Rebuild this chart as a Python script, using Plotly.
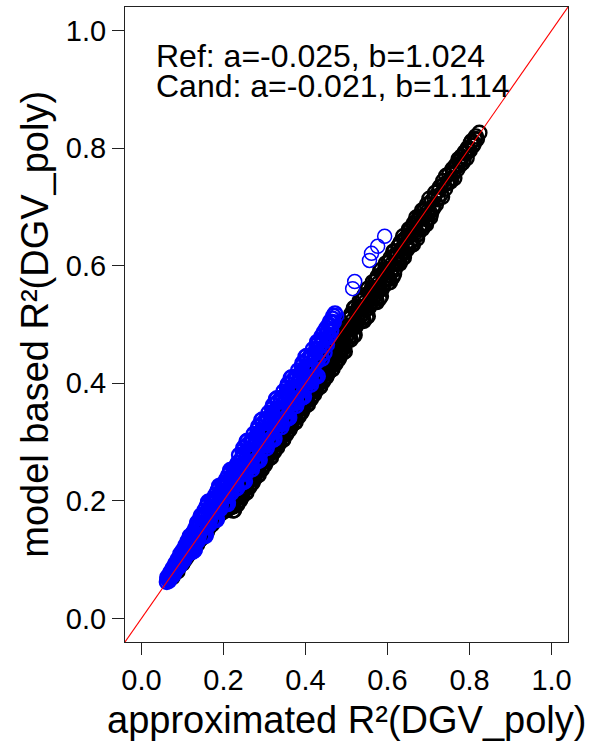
import plotly.graph_objects as go

# ---- data ----
# blue ("Cand") points, first pass
blue_x_a = [0.062, 0.066, 0.070, 0.072, 0.076, 0.079, 0.082, 0.085, 0.088, 0.091, 0.094, 0.097, 0.100, 0.103, 0.106, 0.109, 0.112, 0.115,
            0.118, 0.121, 0.124, 0.127, 0.130, 0.133, 0.136, 0.139, 0.142, 0.145, 0.148, 0.151, 0.154, 0.157, 0.160, 0.163, 0.166, 0.169, 0.172, 0.175,
            0.178, 0.181, 0.184, 0.187, 0.190, 0.193, 0.196, 0.199, 0.202, 0.205, 0.208, 0.211, 0.214, 0.217, 0.220, 0.223, 0.226, 0.229, 0.232, 0.235,
            0.238, 0.241, 0.244, 0.247, 0.250, 0.253, 0.256, 0.259, 0.262, 0.265, 0.268, 0.271, 0.274, 0.277, 0.280, 0.283, 0.286, 0.289, 0.292, 0.295,
            0.298, 0.301, 0.304, 0.307, 0.310, 0.313, 0.316, 0.319, 0.322, 0.325, 0.328, 0.331, 0.334, 0.337, 0.340, 0.343, 0.346, 0.349, 0.352, 0.355,
            0.358, 0.361, 0.364, 0.367, 0.370, 0.373, 0.376, 0.379, 0.382, 0.385, 0.388, 0.391, 0.394, 0.397, 0.400, 0.403, 0.406, 0.409, 0.412, 0.415,
            0.418, 0.421, 0.424, 0.427, 0.430,
            0.433, 0.436, 0.439, 0.442, 0.445, 0.448, 0.451, 0.454, 0.457, 0.460, 0.463, 0.466, 0.469, 0.472]
blue_y_a = [0.062, 0.072, 0.075, 0.070, 0.083, 0.080, 0.091, 0.088, 0.097, 0.094, 0.104, 0.101, 0.112, 0.106, 0.118, 0.114, 0.121, 0.125,
            0.140, 0.113, 0.136, 0.146, 0.116, 0.137, 0.163, 0.137, 0.160, 0.175, 0.140, 0.163, 0.178, 0.143, 0.164, 0.197, 0.164, 0.187, 0.202, 0.167,
            0.190, 0.205, 0.170, 0.191, 0.224, 0.191, 0.214, 0.229, 0.194, 0.217, 0.232, 0.197, 0.218, 0.251, 0.218, 0.241, 0.256, 0.221, 0.244, 0.259,
            0.278, 0.229, 0.260, 0.277, 0.232, 0.259, 0.301, 0.259, 0.284, 0.259, 0.303, 0.281, 0.314, 0.265, 0.296, 0.313, 0.268, 0.295, 0.337, 0.295,
            0.320, 0.295, 0.339, 0.317, 0.350, 0.301, 0.332, 0.349, 0.304, 0.331, 0.373, 0.331, 0.356, 0.331, 0.375, 0.353, 0.386, 0.337, 0.368, 0.385,
            0.340, 0.367, 0.409, 0.367, 0.392, 0.367, 0.411, 0.389, 0.422, 0.373, 0.404, 0.421, 0.376, 0.403, 0.445, 0.403, 0.428, 0.403, 0.447, 0.425,
            0.458, 0.409, 0.440, 0.457, 0.412,
            0.470, 0.446, 0.480, 0.458, 0.487, 0.465, 0.494, 0.478, 0.500, 0.505, 0.490, 0.510, 0.504, 0.519]
# blue points, second pass
blue_x_b = [0.064, 0.068, 0.074, 0.078, 0.081, 0.084, 0.087, 0.090, 0.093, 0.096, 0.099, 0.102, 0.105, 0.108, 0.111, 0.114, 0.116,
            0.1195, 0.1225, 0.1255, 0.1285, 0.1315, 0.1345, 0.1375, 0.1405, 0.1435, 0.1465, 0.1495, 0.1525, 0.1555, 0.1585, 0.1615, 0.1645,
            0.1675, 0.1705, 0.1735, 0.1765, 0.1795, 0.1825, 0.1855, 0.1885, 0.1915, 0.1945, 0.1975, 0.2005, 0.2035, 0.2065, 0.2095, 0.2125,
            0.2155, 0.2185, 0.2215, 0.2245, 0.2275, 0.2305, 0.2335,
            0.2395, 0.2425, 0.2455, 0.2485, 0.2515, 0.2545, 0.2575, 0.2605, 0.2635, 0.2665, 0.2695, 0.2725, 0.2755, 0.2785, 0.2815, 0.2845,
            0.2875, 0.2905, 0.2935, 0.2965, 0.2995, 0.3025, 0.3055, 0.3085, 0.3115, 0.3145, 0.3175, 0.3205, 0.3235, 0.3265, 0.3295, 0.3325,
            0.3355, 0.3385, 0.3415, 0.3445, 0.3475, 0.3505, 0.3535, 0.3565, 0.3595, 0.3625, 0.3655, 0.3685, 0.3715, 0.3745, 0.3775, 0.3805,
            0.3835, 0.3865, 0.3895, 0.3925, 0.3955, 0.3985, 0.4015, 0.4045, 0.4075, 0.4105, 0.4135, 0.4165, 0.4195, 0.4225, 0.4255, 0.4285,
            0.4345, 0.4375, 0.4405, 0.4435, 0.4465, 0.4495, 0.4525, 0.4555, 0.4585, 0.4615, 0.4645, 0.468]
blue_y_b = [0.068, 0.066, 0.078, 0.074, 0.086, 0.082, 0.092, 0.099, 0.090, 0.108, 0.098, 0.109, 0.104, 0.120, 0.110, 0.131, 0.118,
            0.1275, 0.1405, 0.1135, 0.1445, 0.1535, 0.1305, 0.1575, 0.1425, 0.1715, 0.1545, 0.1755, 0.1405, 0.1715, 0.1905, 0.1575, 0.1845,
            0.1695, 0.1985, 0.1815, 0.2025, 0.1675, 0.1985, 0.2175, 0.1845, 0.2115, 0.1965, 0.2255, 0.2085, 0.2295, 0.1945, 0.2255, 0.2445,
            0.2115, 0.2385, 0.2235, 0.2525, 0.2355, 0.2565, 0.2215,
            0.2435, 0.2705, 0.2315, 0.2905, 0.2635, 0.2465, 0.2815, 0.2965, 0.2615, 0.2845, 0.2535, 0.3045, 0.2795, 0.3065, 0.2675, 0.3265,
            0.2995, 0.2825, 0.3175, 0.3325, 0.2975, 0.3205, 0.2895, 0.3405, 0.3155, 0.3425, 0.3035, 0.3625, 0.3355, 0.3185, 0.3535, 0.3685,
            0.3335, 0.3565, 0.3255, 0.3765, 0.3515, 0.3785, 0.3395, 0.3985, 0.3715, 0.3545, 0.3895, 0.4045, 0.3695, 0.3925, 0.3615, 0.4125,
            0.3875, 0.4145, 0.3755, 0.4345, 0.4075, 0.3905, 0.4255, 0.4405, 0.4055, 0.4285, 0.3975, 0.4485, 0.4235, 0.4505, 0.4115, 0.4705,
            0.455, 0.466, 0.442, 0.474, 0.452, 0.482, 0.466, 0.490, 0.480, 0.498, 0.503, 0.515]
# blue points, third pass
blue_x_c = [0.063, 0.067, 0.071, 0.075, 0.077, 0.080, 0.083, 0.086, 0.089, 0.092, 0.095, 0.098, 0.101, 0.104, 0.107, 0.110, 0.113, 0.117,
            0.1205, 0.1235, 0.1265, 0.1295, 0.1325, 0.1355, 0.1385, 0.1415, 0.1445, 0.1475, 0.1505, 0.1535, 0.1565, 0.1595, 0.1625, 0.1655,
            0.1685, 0.1715, 0.1745, 0.1775, 0.1805, 0.1835, 0.1865, 0.1895, 0.1925, 0.1955, 0.1985, 0.2015, 0.2045, 0.2075, 0.2105, 0.2135,
            0.2165, 0.2195, 0.2225, 0.2255, 0.2285, 0.2315, 0.2345,
            0.2405, 0.2435, 0.2465, 0.2495, 0.2525, 0.2555, 0.2585, 0.2615, 0.2645, 0.2675, 0.2705, 0.2735, 0.2765, 0.2795, 0.2825, 0.2855,
            0.2885, 0.2915, 0.2945, 0.2975, 0.3005, 0.3035, 0.3065, 0.3095, 0.3125, 0.3155, 0.3185, 0.3215, 0.3245, 0.3275, 0.3305, 0.3335,
            0.3365, 0.3395, 0.3425, 0.3455, 0.3485, 0.3515, 0.3545, 0.3575, 0.3605, 0.3635, 0.3665, 0.3695, 0.3725, 0.3755, 0.3785, 0.3815,
            0.3845, 0.3875, 0.3905, 0.3935, 0.3965, 0.3995, 0.4025, 0.4055, 0.4085, 0.4115, 0.4145, 0.4175, 0.4205, 0.4235, 0.4265, 0.4295]
blue_y_c = [0.070, 0.064, 0.079, 0.072, 0.086, 0.077, 0.094, 0.084, 0.101, 0.088, 0.110, 0.094, 0.116, 0.100, 0.124, 0.107, 0.132, 0.112,
            0.1305, 0.1255, 0.1465, 0.1175, 0.1425, 0.1615, 0.1325, 0.1555, 0.1705, 0.1695, 0.1525, 0.1835, 0.1405, 0.1695, 0.1985, 0.1595,
            0.1825, 0.1975, 0.1965, 0.1795, 0.2105, 0.1675, 0.1965, 0.2255, 0.1865, 0.2095, 0.2245, 0.2235, 0.2065, 0.2375, 0.1945, 0.2235,
            0.2525, 0.2135, 0.2365, 0.2515, 0.2505, 0.2335, 0.2645,
            0.2605, 0.2335, 0.2845, 0.2575, 0.2335, 0.2825, 0.3025, 0.2575, 0.2785, 0.3005, 0.2585, 0.2745, 0.2965, 0.2695, 0.3205, 0.2935,
            0.2695, 0.3185, 0.3385, 0.2935, 0.3145, 0.3365, 0.2945, 0.3105, 0.3325, 0.3055, 0.3565, 0.3295, 0.3055, 0.3545, 0.3745, 0.3295,
            0.3505, 0.3725, 0.3305, 0.3465, 0.3685, 0.3415, 0.3925, 0.3655, 0.3415, 0.3905, 0.4105, 0.3655, 0.3865, 0.4085, 0.3665, 0.3825,
            0.4045, 0.3775, 0.4285, 0.4015, 0.3775, 0.4265, 0.4465, 0.4015, 0.4225, 0.4445, 0.4025, 0.4185, 0.4405, 0.4135, 0.4645, 0.4375]
# isolated blue points above the band
blue_out_x = [0.476, 0.515, 0.520, 0.556, 0.561, 0.576, 0.593]
blue_out_y = [0.515, 0.561, 0.573, 0.609, 0.621, 0.633, 0.650]

# black ("Ref") points, first pass
black_x_a = [0.070, 0.076, 0.082, 0.088, 0.094, 0.100, 0.106, 0.112, 0.118, 0.124, 0.130, 0.136, 0.142, 0.148, 0.154, 0.160, 0.166, 0.172, 0.178, 0.184,
             0.190, 0.193, 0.196, 0.199, 0.202, 0.205, 0.208, 0.211, 0.214, 0.217,
             0.220, 0.223, 0.226, 0.229, 0.232, 0.235, 0.238, 0.241, 0.244, 0.247,
             0.250, 0.253, 0.256, 0.259, 0.262, 0.265, 0.268, 0.271, 0.274, 0.277,
             0.280, 0.283, 0.286, 0.289, 0.292, 0.295, 0.298, 0.301, 0.304, 0.307,
             0.310, 0.313, 0.316, 0.319, 0.322, 0.325, 0.328, 0.331, 0.334, 0.337,
             0.340, 0.343, 0.346, 0.349, 0.352, 0.355, 0.358, 0.361, 0.364, 0.367,
             0.370, 0.373, 0.376, 0.379, 0.382, 0.385, 0.388, 0.391, 0.394, 0.397,
             0.400, 0.403, 0.406, 0.409, 0.412, 0.415, 0.418, 0.421, 0.424, 0.427,
             0.430, 0.433, 0.436, 0.439, 0.442, 0.445, 0.448, 0.451, 0.454, 0.457,
             0.460, 0.463, 0.466, 0.469, 0.472, 0.475, 0.478, 0.481, 0.484, 0.487,
             0.490, 0.493, 0.496, 0.499,
             0.502, 0.506, 0.510, 0.514, 0.518, 0.522, 0.526, 0.530, 0.534, 0.538, 0.542, 0.546, 0.550, 0.554, 0.558,
             0.562, 0.566, 0.570, 0.574, 0.578, 0.582, 0.586, 0.590, 0.594, 0.598, 0.602, 0.606, 0.610, 0.614, 0.618,
             0.622, 0.626, 0.630, 0.634, 0.638, 0.642, 0.646, 0.650, 0.654, 0.658, 0.662, 0.666, 0.670, 0.674, 0.678,
             0.682, 0.686, 0.690, 0.694, 0.698, 0.702, 0.706, 0.710, 0.714, 0.718,
             0.723, 0.728, 0.733, 0.738, 0.743, 0.748, 0.753, 0.758, 0.763, 0.768, 0.773, 0.778, 0.783, 0.788, 0.793,
             0.798, 0.803, 0.808, 0.813, 0.818, 0.824]
black_y_a = [0.068, 0.070, 0.078, 0.080, 0.092, 0.093, 0.100, 0.106, 0.113, 0.114, 0.124, 0.126, 0.133, 0.137, 0.146, 0.148, 0.156, 0.160, 0.170, 0.171,
             0.178, 0.185, 0.184, 0.181, 0.190, 0.193, 0.184, 0.192, 0.210, 0.189,
             0.190, 0.215, 0.184, 0.211, 0.196, 0.223, 0.214, 0.201, 0.240, 0.219,
             0.220, 0.245, 0.214, 0.241, 0.226, 0.253, 0.244, 0.231, 0.270, 0.249,
             0.250, 0.275, 0.244, 0.271, 0.256, 0.283, 0.274, 0.261, 0.300, 0.279,
             0.280, 0.305, 0.274, 0.301, 0.286, 0.313, 0.304, 0.291, 0.330, 0.309,
             0.310, 0.335, 0.304, 0.331, 0.316, 0.343, 0.334, 0.321, 0.360, 0.339,
             0.340, 0.365, 0.334, 0.361, 0.346, 0.373, 0.364, 0.351, 0.390, 0.369,
             0.370, 0.395, 0.364, 0.391, 0.376, 0.403, 0.394, 0.381, 0.420, 0.399,
             0.400, 0.425, 0.394, 0.421, 0.406, 0.433, 0.424, 0.411, 0.450, 0.429,
             0.430, 0.455, 0.424, 0.451, 0.436, 0.463, 0.454, 0.441, 0.480, 0.459,
             0.460, 0.485, 0.454, 0.481,
             0.482, 0.510, 0.474, 0.506, 0.528, 0.496, 0.512, 0.530, 0.514, 0.542, 0.506, 0.538, 0.560, 0.528, 0.544,
             0.562, 0.546, 0.574, 0.538, 0.570, 0.592, 0.560, 0.576, 0.594, 0.578, 0.606, 0.572, 0.602, 0.624, 0.594,
             0.606, 0.632, 0.604, 0.628, 0.650, 0.622, 0.636, 0.652, 0.638, 0.664, 0.636, 0.660, 0.682, 0.654, 0.668,
             0.684, 0.670, 0.696, 0.670, 0.692, 0.714, 0.688, 0.700, 0.716, 0.704,
             0.713, 0.734, 0.717, 0.738, 0.753, 0.742, 0.743, 0.764, 0.749, 0.768, 0.781, 0.772, 0.775, 0.793, 0.783,
             0.798, 0.809, 0.804, 0.815, 0.815, 0.826]
# black points, second pass
black_x_b = [0.073, 0.079, 0.085, 0.091, 0.097, 0.103, 0.109, 0.115, 0.121, 0.127, 0.133, 0.139, 0.145, 0.151, 0.157, 0.163, 0.169, 0.175, 0.181, 0.187,
             0.1915, 0.1945, 0.1975, 0.2005, 0.2035, 0.2065, 0.2095, 0.2125, 0.2155, 0.2185,
             0.2215, 0.2245, 0.2275, 0.2305, 0.2335, 0.2365, 0.2395, 0.2425, 0.2455, 0.2485,
             0.2515, 0.2545, 0.2575, 0.2605, 0.2635, 0.2665, 0.2695, 0.2725, 0.2755, 0.2785,
             0.2815, 0.2845, 0.2875, 0.2905, 0.2935, 0.2965, 0.2995, 0.3025, 0.3055, 0.3085,
             0.3115, 0.3145, 0.3175, 0.3205, 0.3235, 0.3265, 0.3295, 0.3325, 0.3355, 0.3385,
             0.3415, 0.3445, 0.3475, 0.3505, 0.3535, 0.3565, 0.3595, 0.3625, 0.3655, 0.3685,
             0.3715, 0.3745, 0.3775, 0.3805, 0.3835, 0.3865, 0.3895, 0.3925, 0.3955, 0.3985,
             0.4015, 0.4045, 0.4075, 0.4105, 0.4135, 0.4165, 0.4195, 0.4225, 0.4255, 0.4285,
             0.4315, 0.4345, 0.4375, 0.4405, 0.4435, 0.4465, 0.4495, 0.4525, 0.4555, 0.4585,
             0.4615, 0.4645, 0.4675, 0.4705, 0.4735, 0.4765, 0.4795, 0.4825, 0.4855, 0.4885,
             0.4915, 0.4945, 0.4975,
             0.504, 0.508, 0.512, 0.516, 0.520, 0.524, 0.528, 0.532, 0.536, 0.540, 0.544, 0.548, 0.552, 0.556, 0.560,
             0.564, 0.568, 0.572, 0.576, 0.580, 0.584, 0.588, 0.592, 0.596, 0.600, 0.604, 0.608, 0.612, 0.616, 0.620,
             0.624, 0.628, 0.632, 0.636, 0.640, 0.644, 0.648, 0.652, 0.656, 0.660, 0.664, 0.668,
             0.672, 0.676, 0.680, 0.684, 0.688, 0.692, 0.696, 0.700, 0.704, 0.708, 0.712, 0.716,
             0.7255, 0.7305, 0.7355, 0.7405, 0.7455, 0.7505, 0.7555, 0.7605, 0.7655, 0.7705,
             0.7755, 0.7805, 0.7855, 0.7905, 0.7955, 0.8005, 0.8055, 0.8105, 0.8155]
black_y_b = [0.072, 0.076, 0.083, 0.087, 0.095, 0.099, 0.108, 0.110, 0.119, 0.121, 0.130, 0.132, 0.141, 0.144, 0.152, 0.154, 0.165, 0.166, 0.177, 0.180,
             0.1775, 0.1825, 0.1955, 0.1845, 0.1895, 0.1965, 0.1915, 0.1945, 0.1935, 0.2125,
             0.2075, 0.1905, 0.2255, 0.2085, 0.1935, 0.2265, 0.2095, 0.2245, 0.2075, 0.2425,
             0.2375, 0.2205, 0.2555, 0.2385, 0.2235, 0.2565, 0.2395, 0.2545, 0.2375, 0.2725,
             0.2675, 0.2505, 0.2855, 0.2685, 0.2535, 0.2865, 0.2695, 0.2845, 0.2675, 0.3025,
             0.2975, 0.2805, 0.3155, 0.2985, 0.2835, 0.3165, 0.2995, 0.3145, 0.2975, 0.3325,
             0.3275, 0.3105, 0.3455, 0.3285, 0.3135, 0.3465, 0.3295, 0.3445, 0.3275, 0.3625,
             0.3575, 0.3405, 0.3755, 0.3585, 0.3435, 0.3765, 0.3595, 0.3745, 0.3575, 0.3925,
             0.3875, 0.3705, 0.4055, 0.3885, 0.3735, 0.4065, 0.3895, 0.4045, 0.3875, 0.4225,
             0.4175, 0.4005, 0.4355, 0.4185, 0.4035, 0.4365, 0.4195, 0.4345, 0.4175, 0.4525,
             0.4475, 0.4305, 0.4655, 0.4485, 0.4335, 0.4665, 0.4495, 0.4645, 0.4475, 0.4825,
             0.4775, 0.4605, 0.4955,
             0.498, 0.480, 0.518, 0.500, 0.482, 0.522, 0.506, 0.540, 0.530, 0.512, 0.550, 0.532, 0.514, 0.554, 0.538,
             0.572, 0.562, 0.544, 0.582, 0.564, 0.548, 0.586, 0.570, 0.604, 0.594, 0.578, 0.614, 0.596, 0.586, 0.618,
             0.620, 0.606, 0.640, 0.624, 0.614, 0.646, 0.632, 0.662, 0.652, 0.638, 0.672, 0.656,
             0.646, 0.678, 0.664, 0.694, 0.684, 0.672, 0.704, 0.688, 0.682, 0.710, 0.698, 0.724,
             0.728, 0.722, 0.744, 0.731, 0.740, 0.756, 0.748, 0.757, 0.770, 0.764,
             0.778, 0.786, 0.780, 0.791, 0.800, 0.796, 0.812, 0.808, 0.820]
# black points, third pass
black_x_c = [0.2205, 0.2235, 0.2265, 0.2295, 0.2325, 0.2355, 0.2385, 0.2415, 0.2445, 0.2475,
             0.2505, 0.2535, 0.2565, 0.2595, 0.2625, 0.2655, 0.2685, 0.2715, 0.2745, 0.2775,
             0.2805, 0.2835, 0.2865, 0.2895, 0.2925, 0.2955, 0.2985, 0.3015, 0.3045, 0.3075,
             0.3105, 0.3135, 0.3165, 0.3195, 0.3225, 0.3255, 0.3285, 0.3315, 0.3345, 0.3375,
             0.3405, 0.3435, 0.3465, 0.3495, 0.3525, 0.3555, 0.3585, 0.3615, 0.3645, 0.3675,
             0.3705, 0.3735, 0.3765, 0.3795, 0.3825, 0.3855, 0.3885, 0.3915, 0.3945, 0.3975,
             0.4005, 0.4035, 0.4065, 0.4095, 0.4125, 0.4155, 0.4185, 0.4215, 0.4245, 0.4275,
             0.4305, 0.4335, 0.4365, 0.4395, 0.4425, 0.4455, 0.4485, 0.4515, 0.4545, 0.4575,
             0.4605, 0.4635, 0.4665, 0.4695, 0.4725, 0.4755, 0.4785, 0.4815, 0.4845, 0.4875,
             0.4905, 0.4935, 0.4965,
             0.5005, 0.5045, 0.5085, 0.5125, 0.5165, 0.5205, 0.5245, 0.5285, 0.5325, 0.5365,
             0.5405, 0.5445, 0.5485, 0.5525, 0.5565, 0.5605, 0.5645, 0.5685, 0.5725, 0.5765,
             0.5805, 0.5845, 0.5885, 0.5925, 0.5965, 0.6005, 0.6045, 0.6085, 0.6125, 0.6165,
             0.6205, 0.6245, 0.6285, 0.6325, 0.6365, 0.6405, 0.6445, 0.6485, 0.6525, 0.6565,
             0.6605, 0.6645, 0.6685, 0.6725, 0.6765, 0.6805, 0.6845, 0.6885, 0.6925, 0.6965]
black_y_c = [0.2005, 0.1835, 0.2185, 0.2015, 0.2165, 0.1995, 0.2365, 0.2175, 0.2125, 0.2355,
             0.2305, 0.2135, 0.2485, 0.2315, 0.2465, 0.2295, 0.2665, 0.2475, 0.2425, 0.2655,
             0.2605, 0.2435, 0.2785, 0.2615, 0.2765, 0.2595, 0.2965, 0.2775, 0.2725, 0.2955,
             0.2905, 0.2735, 0.3085, 0.2915, 0.3065, 0.2895, 0.3265, 0.3075, 0.3025, 0.3255,
             0.3205, 0.3035, 0.3385, 0.3215, 0.3365, 0.3195, 0.3565, 0.3375, 0.3325, 0.3555,
             0.3505, 0.3335, 0.3685, 0.3515, 0.3665, 0.3495, 0.3865, 0.3675, 0.3625, 0.3855,
             0.3805, 0.3635, 0.3985, 0.3815, 0.3965, 0.3795, 0.4165, 0.3975, 0.3925, 0.4155,
             0.4105, 0.3935, 0.4285, 0.4115, 0.4265, 0.4095, 0.4465, 0.4275, 0.4225, 0.4455,
             0.4405, 0.4235, 0.4585, 0.4415, 0.4565, 0.4395, 0.4765, 0.4575, 0.4525, 0.4755,
             0.4705, 0.4535, 0.4885,
             0.4885, 0.4745, 0.5105, 0.4925, 0.4805, 0.5285, 0.5005, 0.5245, 0.5205, 0.5065,
             0.5425, 0.5245, 0.5125, 0.5605, 0.5325, 0.5565, 0.5525, 0.5385, 0.5745, 0.5565,
             0.5445, 0.5925, 0.5645, 0.5885, 0.5845, 0.5705, 0.6065, 0.5885, 0.5805, 0.6245,
             0.6125, 0.6045, 0.6345, 0.6185, 0.6125, 0.6445, 0.6365, 0.6285, 0.6585, 0.6425,
             0.6365, 0.6685, 0.6605, 0.6525, 0.6825, 0.6665, 0.6625, 0.6925, 0.6845, 0.6785]

blue_x = blue_x_a + blue_x_b + blue_x_c
blue_y = blue_y_a + blue_y_b + blue_y_c
black_x = black_x_a + black_x_b + black_x_c
black_y = black_y_a + black_y_b + black_y_c
assert len(blue_x) == len(blue_y)
assert len(black_x) == len(black_y)
assert len(blue_out_x) == len(blue_out_y)

tick_vals = [0.0, 0.2, 0.4, 0.6, 0.8, 1.0]
tick_text = ["0.0", "0.2", "0.4", "0.6", "0.8", "1.0"]
axis_range = [-0.04, 1.04]
ref_intercept, ref_slope = 0.0, 1.0
label_ref = "Ref: a=-0.025, b=1.024"
label_cand = "Cand: a=-0.021, b=1.114"
x_title = "approximated R²(DGV_poly)"
y_title = "model based R²(DGV_poly)"

FONT = "Liberation Sans, Arial, Helvetica, sans-serif"
BLUE = "#0000FF"

fig = go.Figure()
fig.add_trace(go.Scatter(
    x=black_x, y=black_y, mode="markers",
    marker=dict(symbol="circle-open", size=14, color="black", line=dict(width=2.4)),
    showlegend=False, hoverinfo="skip"))
fig.add_trace(go.Scatter(
    x=blue_x, y=blue_y, mode="markers",
    marker=dict(symbol="circle-open", size=14, color=BLUE, line=dict(width=2.4)),
    showlegend=False, hoverinfo="skip"))
fig.add_trace(go.Scatter(
    x=blue_out_x, y=blue_out_y, mode="markers",
    marker=dict(symbol="circle-open", size=14, color=BLUE, line=dict(width=1.5)),
    showlegend=False, hoverinfo="skip"))

# reference line y = a + b x across the whole axis range
fig.add_shape(type="line", xref="x", yref="y",
              x0=axis_range[0], y0=ref_intercept + ref_slope * axis_range[0],
              x1=axis_range[1], y1=ref_intercept + ref_slope * axis_range[1],
              line=dict(color="#FF0000", width=1.1), layer="above")

axis_common = dict(
    range=axis_range, tickvals=tick_vals, ticktext=tick_text,
    showgrid=False, zeroline=False, showline=True, mirror=True,
    linecolor="#222222", linewidth=1.2, ticks="outside", ticklen=12,
    tickwidth=1.2, tickcolor="#222222",
    tickfont=dict(family=FONT, size=29, color="black"),
)
fig.update_xaxes(**axis_common)
fig.update_yaxes(**axis_common)

fig.add_annotation(xref="x", yref="y", x=0.032, y=0.957, text=label_ref,
                   showarrow=False, xanchor="left", yanchor="middle", borderpad=0,
                   font=dict(family=FONT, size=32, color="black"))
fig.add_annotation(xref="x", yref="y", x=0.032, y=0.905, text=label_cand,
                   showarrow=False, xanchor="left", yanchor="middle", borderpad=0,
                   font=dict(family=FONT, size=32, color="black"))
fig.add_annotation(xref="paper", yref="paper", x=0.5, y=-0.123, text=x_title,
                   showarrow=False, xanchor="center", yanchor="middle",
                   font=dict(family=FONT, size=38, color="black"))
fig.add_annotation(xref="paper", yref="paper", x=-0.205, y=0.5, text=y_title,
                   showarrow=False, xanchor="center", yanchor="middle", textangle=-90,
                   font=dict(family=FONT, size=38, color="black"))

fig.update_layout(
    width=597, height=751,
    margin=dict(l=125, r=29, t=7, b=109, autoexpand=False),
    plot_bgcolor="white", paper_bgcolor="white",
    font=dict(family=FONT, color="black"),
)

fig.write_html("out.html", config={"displayModeBar": False},
               post_script="document.body.style.margin='0px';")
